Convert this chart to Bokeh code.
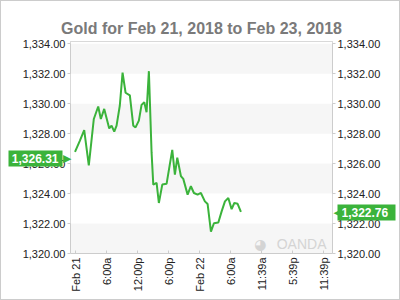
import math
from bokeh.plotting import figure
from bokeh.models import (Range1d, FixedTicker, NumeralTickFormatter, Label, LinearAxis)
from bokeh.embed import file_html
from bokeh.resources import INLINE

# hours since Feb 21 2018 00:00
hours = [-0.1, 0.83, 1.68, 2.57, 3.54, 4.39, 4.90, 5.55, 6.52, 6.97, 7.49, 7.94, 8.57, 9.10,
         9.68, 10.51, 11.17, 11.61, 12.25, 12.77, 13.30, 13.74, 14.19, 14.71, 15.04, 15.68,
         16.12, 16.78, 17.61, 18.71, 19.22, 19.68, 20.38, 20.84, 21.68, 22.31, 22.90, 23.61,
         24.25, 25.02, 25.55, 26.19, 26.77, 27.62, 28.26, 28.90, 29.55, 30.19, 30.71, 31.35,
         31.99]
prices = [1326.78, 1327.52, 1328.24, 1325.88, 1328.98, 1329.81, 1328.98, 1329.65, 1328.35,
          1328.53, 1328.13, 1328.53, 1329.88, 1332.07, 1330.73, 1330.55, 1328.53, 1328.42,
          1328.87, 1329.92, 1330.10, 1329.43, 1332.17, 1326.73, 1324.60, 1324.71, 1323.37,
          1324.60, 1324.65, 1326.92, 1325.27, 1326.40, 1325.17, 1324.98, 1323.93, 1324.49,
          1324.04, 1323.93, 1324.04, 1323.48, 1323.30, 1321.46, 1322.02, 1322.07, 1322.81,
          1323.48, 1323.70, 1322.96, 1323.37, 1323.32, 1322.78]

x_ticks = [0, 6, 12, 18, 24, 30, 36, 42, 48]
x_tick_labels = ["Feb 21", "6:00a", "12:00p", "6:00p", "Feb 22", "6:00a", "11:39a", "5:39p", "11:39p"]
y_ticks = [1320, 1322, 1324, 1326, 1328, 1330, 1332, 1334]
open_price = 1326.31
last_price = 1322.76
title = "Gold for Feb 21, 2018 to Feb 23, 2018"

GREEN = "#3bb33b"
FONT = "Liberation Sans"

x_start, x_end = -0.97, 49.7
y_start, y_end = 1320, 1334.15

p = figure(width=400, height=300, output_backend="svg", toolbar_location=None,
           x_range=Range1d(x_start, x_end), y_range=Range1d(y_start, y_end),
           min_border_left=69, min_border_right=69, min_border_top=40, min_border_bottom=48,
           y_axis_location=None)
p.title.text = title
p.title.align = "center"
p.title.text_font = FONT
p.title.text_font_size = "16px"
p.title.text_color = "#7a7a7a"
p.title.text_font_style = "bold"
p.outline_line_color = "#cccccc"
p.border_fill_color = "white"
p.background_fill_color = "#f6f6f6"
p.styles = {"border": "1px solid #cccccc", "box-sizing": "border-box"}

p.line(hours, prices, line_color=GREEN, line_width=2)

# x axis
p.xaxis.ticker = FixedTicker(ticks=x_ticks)
p.xaxis.major_label_overrides = {t: l for t, l in zip(x_ticks, x_tick_labels)}
p.xaxis.major_label_orientation = math.pi / 2
p.xaxis.axis_line_color = None
p.xaxis.major_tick_in = 3
p.xaxis.major_tick_out = 0
p.xaxis.major_tick_line_color = "#cccccc"
p.xaxis.minor_tick_line_color = None
p.xaxis.major_label_text_font = FONT
p.xaxis.major_label_text_font_size = "11px"
p.xaxis.major_label_text_color = "#222222"
p.xaxis.major_label_standoff = 4

fmt = NumeralTickFormatter(format="0,0.00")

# regular price axes
for side in ("left", "right"):
    ax = LinearAxis(ticker=FixedTicker(ticks=y_ticks), formatter=fmt)
    ax.axis_line_color = None
    ax.major_tick_in = 0
    ax.major_tick_out = 3
    ax.major_tick_line_color = "#cccccc"
    ax.minor_tick_line_color = None
    ax.major_label_text_font = FONT
    ax.major_label_text_font_size = "11px"
    ax.major_label_text_color = "#222222"
    ax.major_label_standoff = 2
    p.add_layout(ax, side)

# price flags: an axis whose single thick tick is the green box, label on top
def flag_axis(price, tick_in, tick_out, standoff):
    ax = LinearAxis(ticker=FixedTicker(ticks=[price]), formatter=fmt)
    ax.axis_line_color = None
    ax.minor_tick_line_color = None
    ax.major_tick_in = tick_in
    ax.major_tick_out = tick_out
    ax.major_tick_line_color = GREEN
    ax.major_tick_line_width = 16
    ax.major_tick_line_cap = "butt"
    ax.major_label_standoff = standoff
    ax.major_label_text_font = FONT
    ax.major_label_text_font_size = "12px"
    ax.major_label_text_font_style = "bold"
    ax.major_label_text_color = "white"
    return ax

def arrow_axis(price, glyph, standoff):
    ax = LinearAxis(ticker=FixedTicker(ticks=[price]), major_label_overrides={price: glyph})
    ax.axis_line_color = None
    ax.minor_tick_line_color = None
    ax.major_tick_line_color = None
    ax.major_tick_in = 0
    ax.major_tick_out = 0
    ax.major_label_standoff = standoff
    ax.major_label_text_font = "DejaVu Sans"
    ax.major_label_text_font_size = "11px"
    ax.major_label_text_color = GREEN
    return ax

p.add_layout(flag_axis(open_price, 43, 11, -50), "left")
p.add_layout(flag_axis(last_price, 46, 12, -54), "right")
p.add_layout(arrow_axis(open_price, "▶", -63), "left")
p.add_layout(arrow_axis(last_price, "◀", -58), "right")

p.xgrid.grid_line_color = None
p.ygrid.grid_line_color = None
p.ygrid.ticker = FixedTicker(ticks=y_ticks)
p.ygrid.band_fill_color = "white"
p.ygrid.band_fill_alpha = 1.0

# watermark
p.add_layout(Label(x=x_end, y=y_start, x_offset=-6, y_offset=2, text="OANDA",
                   anchor="bottom_right", text_color="#d4d4d4", text_font=FONT,
                   text_font_size="14px"))
p.add_layout(Label(x=x_end, y=y_start, x_offset=-66, y_offset=2, text="◕",
                   anchor="bottom_right", text_color="#d4d4d4", text_font="DejaVu Sans",
                   text_font_size="14px"))

open("out.html", "w").write(file_html(p, INLINE))
